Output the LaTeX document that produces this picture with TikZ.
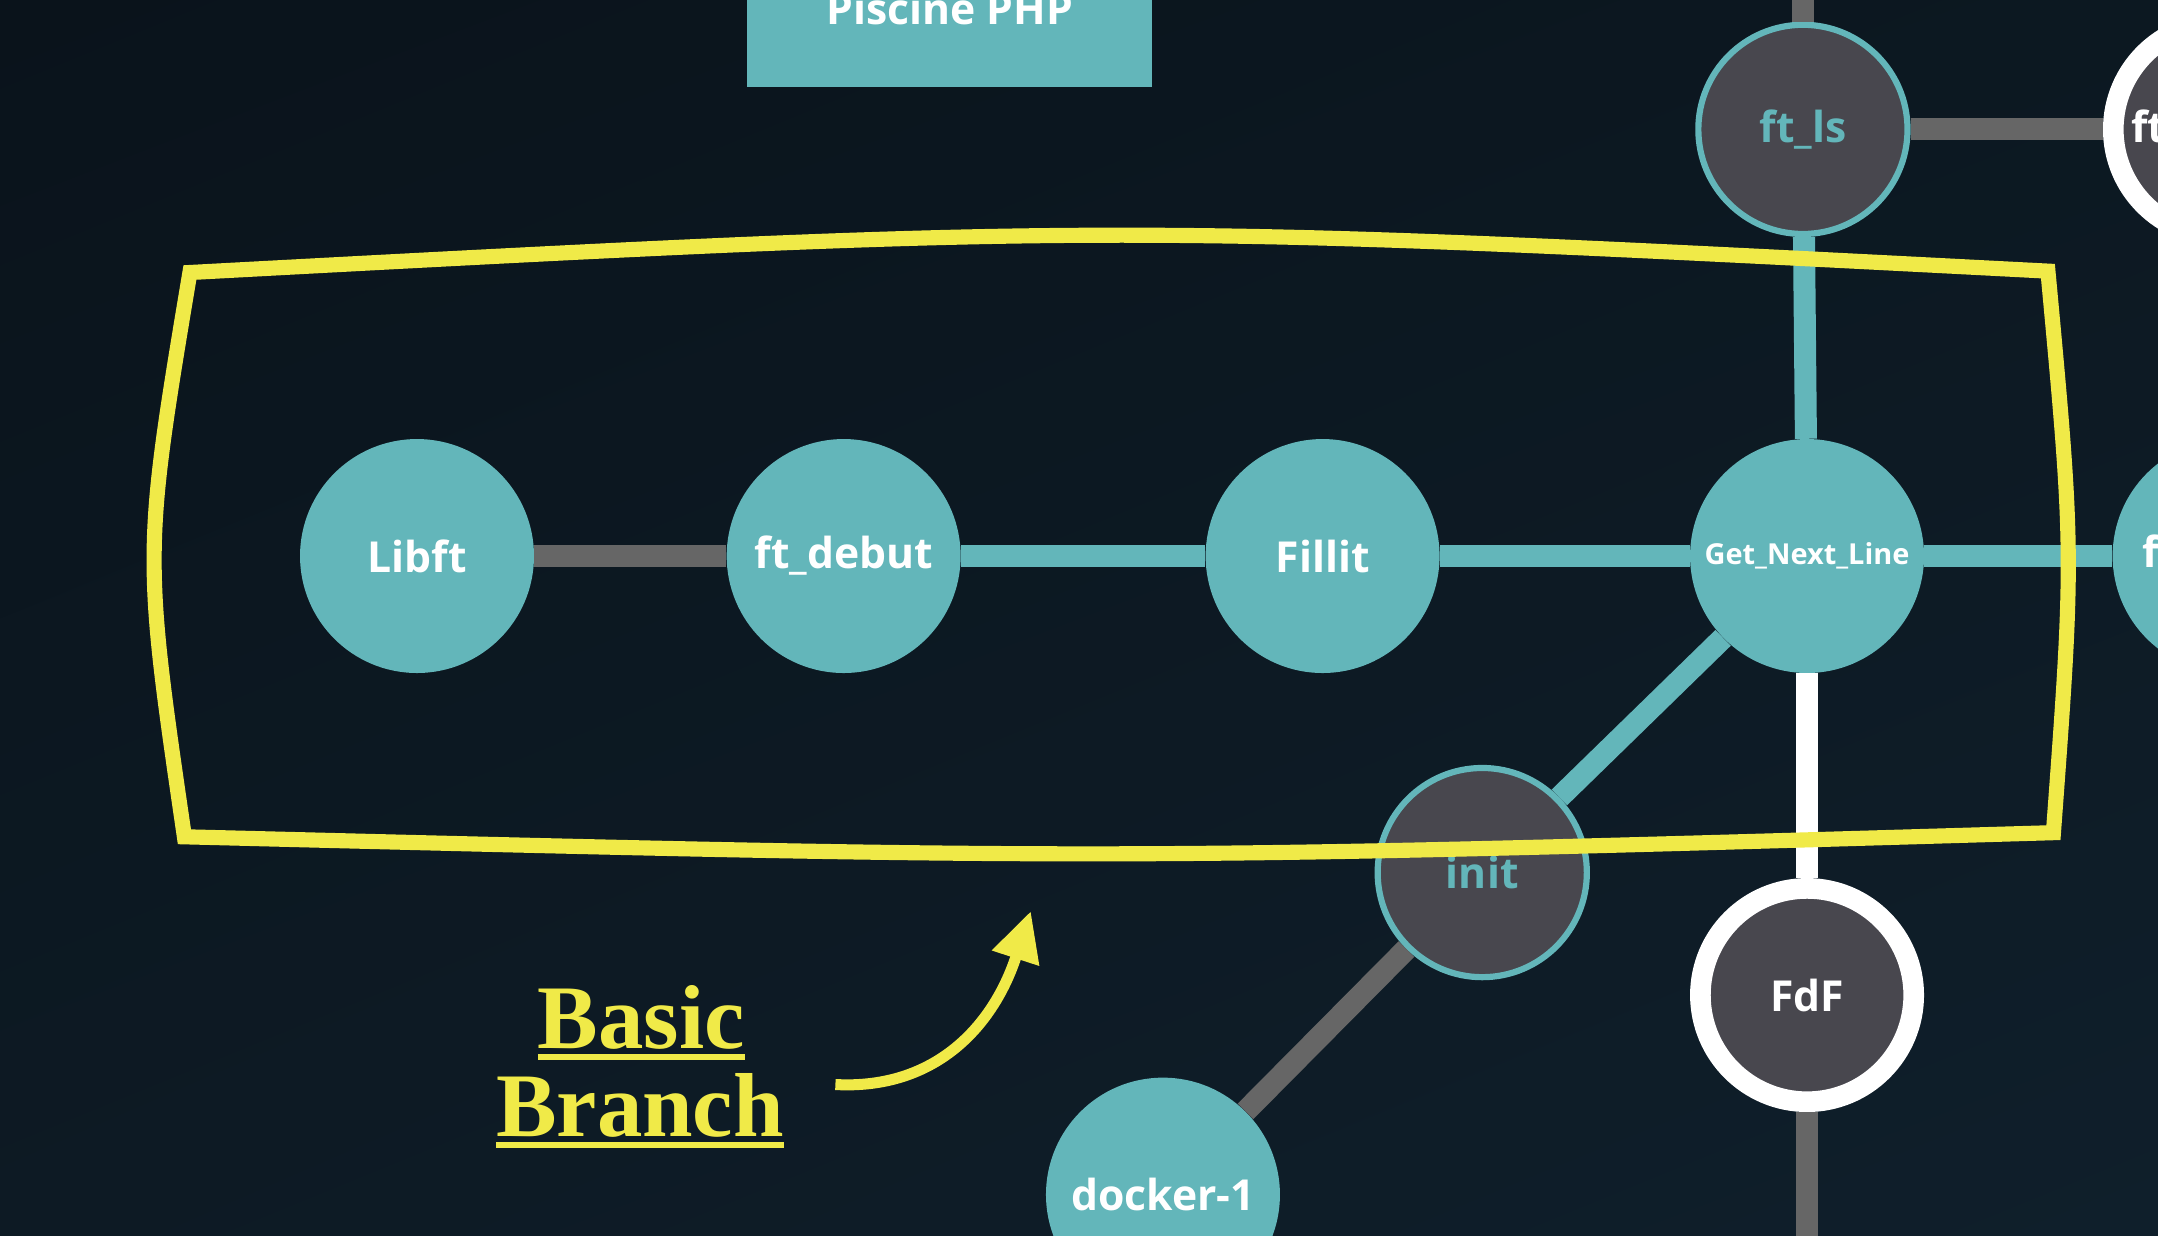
\documentclass[tikz,border=0pt]{standalone}
\usepackage{fontspec}
\newfontfamily\osans{Open Sans}
\newfontfamily\lserif{Liberation Serif}
\usetikzlibrary{arrows.meta,shadings}
\definecolor{holyteal}{HTML}{63B6BA}
\definecolor{holydark}{HTML}{48474E}
\definecolor{holygrey}{HTML}{666666}
\definecolor{holyyellow}{HTML}{F0EA48}
\definecolor{bgul}{HTML}{0A131B}
\definecolor{bgur}{HTML}{0C1821}
\definecolor{bgll}{HTML}{0D1A24}
\definecolor{bglr}{HTML}{0F1F2B}
\newcommand\ulword[1]{\setbox0\hbox{#1}\rlap{\rule[-8pt]{\wd0}{4pt}}\box0}

\begin{document}
\begin{tikzpicture}
    [x=1pt, y=-1pt,
    every node/.style={circle, inner sep=0pt,
        font=\osans\bfseries\fontsize{31}{36}\selectfont},
    project/.style={fill=holyteal, text=white, minimum size=170pt},
    ongoing/.style={fill=holydark, draw=holyteal, line width=4.5pt,
        text=holyteal, minimum size=152pt},
    finished/.style={fill=holydark, draw=white, line width=15pt,
        text=white, minimum size=155pt},
    link/.style={line width=16pt},
    marker/.style={draw=holyyellow, line width=11pt, line join=miter},
    label/.style={rectangle, text=holyyellow, anchor=base,
        font=\lserif\bfseries\fontsize{66}{70}\selectfont}
    ]
    \useasboundingbox (0,0) rectangle (1568,898);
    \clip (0,0) rectangle (1568,898);
    \shade[upper left=bgul, upper right=bgur, lower left=bgll, lower right=bglr]
        (0,0) rectangle (1568,898);

    % projects
    \node[rectangle, fill=holyteal, text=white, minimum width=294pt,
        minimum height=114pt] (piscine) at (690,6) {Piscine PHP};
    \node[project] (libft) at (303,404) {Libft};
    \node[project] (ftdebut) at (613,404) {ft\_debut};
    \node[project] (fillit) at (961,404) {Fillit};
    \node[project, font=\osans\bfseries\fontsize{21}{24}\selectfont]
        (gnl) at (1313,404) {Get\_Next\_Line};
    \node[project] (ftprintf) at (1620,404) {ft\_printf};
    \node[ongoing] (ftls) at (1310,94) {ft\_ls};
    \node[finished] (ftselect) at (1613,94) {ft\_select};
    \node[ongoing] (init) at (1077,634) {init};
    \node[project] (docker) at (845,868) {docker-1};
    \node[finished] (fdf) at (1313,723) {FdF};
    \coordinate (graphtop) at (1310,-20);
    \coordinate (graphbot) at (1313,920);

    % links
    \draw[link, holygrey] (libft) -- (ftdebut);
    \draw[link, holyteal] (ftdebut) -- (fillit);
    \draw[link, holyteal] (fillit) -- (gnl);
    \draw[link, holyteal] (gnl) -- (ftprintf);
    \draw[link, holyteal] (ftls) -- (gnl);
    \draw[link, holyteal] (gnl) -- (init);
    \draw[link, holygrey] (init) -- (docker);
    \draw[link, white] (gnl) -- (fdf);
    \draw[link, holygrey] (fdf) -- (graphbot);
    \draw[link, holygrey] (graphtop) -- (ftls);
    \draw[link, holygrey] (ftls) -- (ftselect);

    % hand drawn box
    \draw[marker] (138,198) .. controls (811,162) .. (1488,197)
        .. controls (1507,402) .. (1492,605)
        .. controls (811,625) .. (134,608)
        .. controls (104,402) .. cycle;

    \node[label] (basic) at (466,762) {\ulword{Basic}};
    \node[label] (branch) at (465,826) {\ulword{Branch}};
    \coordinate (arrowtail) at (607,788);
    \coordinate (arrowtip) at (749,662);
    \draw[holyyellow, line width=8pt, -{Triangle[length=36pt, width=34pt]}]
        (arrowtail) .. controls (680,792) and (722,745) .. (arrowtip);
\end{tikzpicture}
\end{document}
